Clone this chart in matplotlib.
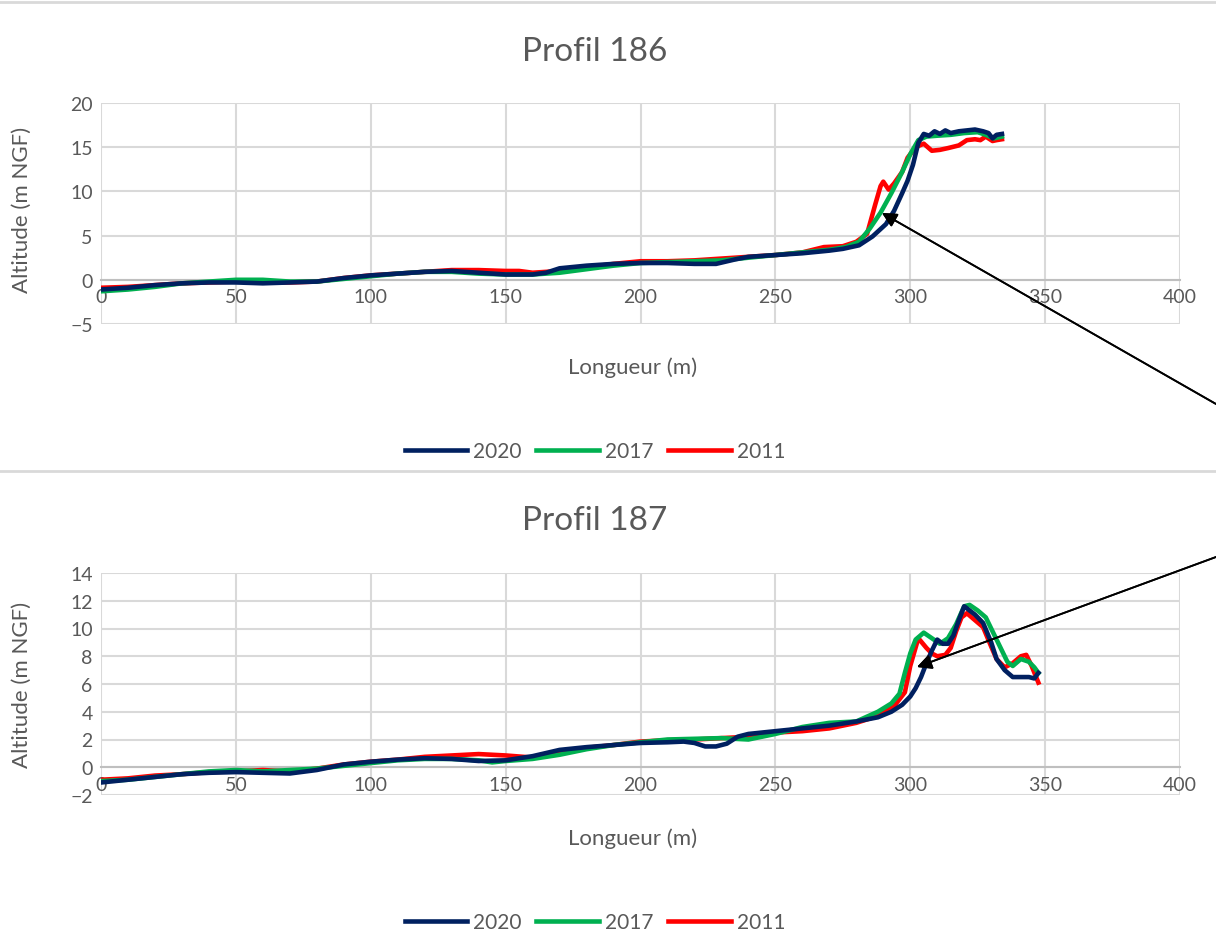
import matplotlib.pyplot as plt
from matplotlib.lines import Line2D

plt.rcParams['font.family'] = ['Lato', 'DejaVu Sans']

years = ['2020', '2017', '2011']
colors = {'2020': '#002060', '2017': '#00B050', '2011': '#FF0000'}

# Profil 186
x186_2020 = [0, 10, 20, 30, 40, 50, 60, 70, 80, 90, 100, 110, 120, 130, 140, 150, 160, 165, 170, 180,
             190, 200, 210, 220, 228, 235, 240, 250, 260, 270, 275, 281, 286, 291, 294, 297, 299, 301,
             303, 305, 307, 309, 311, 313, 315, 318, 321, 324, 327, 329, 330.5, 332, 334]
y186_2020 = [-1.1, -0.9, -0.6, -0.4, -0.3, -0.3, -0.4, -0.3, -0.2, 0.2, 0.5, 0.7, 0.9, 1.0, 0.8, 0.6,
             0.6, 0.8, 1.3, 1.6, 1.8, 1.9, 1.9, 1.8, 1.8, 2.3, 2.6, 2.8, 3.0, 3.3, 3.5, 3.9, 4.9, 6.3,
             7.8, 9.8, 11.2, 13.0, 15.5, 16.5, 16.3, 16.8, 16.5, 16.9, 16.6, 16.8, 16.9, 17.0, 16.8,
             16.6, 16.0, 16.4, 16.5]
x186_2017 = [0, 10, 20, 30, 40, 50, 60, 70, 80, 90, 100, 110, 120, 130, 140, 150, 160, 170, 180, 190,
             200, 210, 220, 230, 240, 250, 260, 270, 276, 281, 285, 289, 293, 297, 300, 303, 306, 310,
             315, 320, 325, 328, 331, 334]
y186_2017 = [-1.3, -1.1, -0.8, -0.4, -0.2, 0.0, 0.0, -0.2, -0.2, 0.1, 0.4, 0.7, 0.9, 0.9, 0.7, 0.6,
             0.6, 0.8, 1.2, 1.6, 1.9, 2.0, 2.1, 2.2, 2.5, 2.8, 3.1, 3.4, 3.7, 4.3, 5.8, 7.6, 9.8, 12.2,
             14.2, 15.8, 16.2, 16.3, 16.4, 16.6, 16.7, 16.4, 16.0, 16.2]
x186_2011 = [0, 10, 20, 30, 40, 50, 60, 70, 80, 90, 100, 110, 120, 130, 140, 150, 155, 160, 170, 180,
             190, 200, 210, 220, 230, 240, 250, 260, 268, 275, 280, 284, 287, 289, 290, 292, 294, 297,
             299, 302, 305, 308, 311, 314, 318, 321, 324, 326, 328, 330.5, 332, 334]
y186_2011 = [-0.9, -0.8, -0.6, -0.4, -0.3, -0.2, -0.3, -0.3, -0.2, 0.2, 0.5, 0.7, 0.9, 1.1, 1.1, 1.0,
             1.0, 0.8, 1.0, 1.4, 1.8, 2.1, 2.1, 2.2, 2.4, 2.6, 2.8, 3.1, 3.7, 3.8, 4.3, 5.2, 8.5, 10.6,
             11.1, 10.2, 10.9, 12.2, 13.8, 15.0, 15.4, 14.6, 14.7, 14.9, 15.2, 15.8, 15.9, 15.8, 16.2,
             15.7, 15.8, 15.9]

# Profil 187
x187_2020 = [0, 10, 20, 30, 40, 50, 60, 70, 80, 90, 100, 110, 120, 130, 140, 150, 160, 170, 180, 190,
             200, 210, 216, 220, 224, 228, 232, 236, 240, 250, 260, 270, 280, 288, 293, 297, 300, 302,
             304, 306, 308, 310, 312, 314, 316, 318, 320, 322, 324, 327, 330, 332, 335, 338, 341, 344,
             346, 347.5]
y187_2020 = [-1.1, -0.9, -0.7, -0.5, -0.4, -0.35, -0.4, -0.45, -0.2, 0.2, 0.4, 0.55, 0.65, 0.6, 0.45,
             0.5, 0.8, 1.25, 1.45, 1.6, 1.75, 1.8, 1.85, 1.75, 1.5, 1.5, 1.7, 2.2, 2.4, 2.6, 2.8, 3.0,
             3.3, 3.6, 4.0, 4.5, 5.1, 5.7, 6.5, 7.5, 8.4, 9.2, 8.9, 8.9, 9.5, 10.6, 11.6, 11.3, 11.0,
             10.4, 9.0, 7.8, 7.0, 6.5, 6.5, 6.5, 6.4, 6.8]
x187_2017 = [0, 10, 20, 30, 40, 50, 60, 70, 80, 90, 100, 110, 120, 130, 140, 145, 150, 160, 170, 180,
             190, 200, 210, 220, 230, 240, 250, 260, 270, 280, 288, 293, 296, 298, 300, 302, 305, 308,
             311, 314, 317, 320, 322, 325, 328, 330, 333, 336, 338, 341, 344, 346, 347.5]
y187_2017 = [-1.0, -0.9, -0.7, -0.5, -0.3, -0.2, -0.3, -0.2, -0.1, 0.1, 0.3, 0.5, 0.6, 0.6, 0.5, 0.35,
             0.45, 0.6, 0.9, 1.3, 1.6, 1.8, 2.0, 2.05, 2.1, 2.0, 2.4, 2.9, 3.2, 3.3, 4.0, 4.6, 5.3, 6.8,
             8.2, 9.2, 9.7, 9.3, 8.9, 9.3, 10.3, 11.6, 11.7, 11.3, 10.8, 10.0, 8.8, 7.6, 7.3, 7.8, 7.6,
             7.2, 6.8]
x187_2011 = [0, 10, 20, 30, 40, 50, 60, 70, 80, 90, 100, 110, 120, 130, 140, 150, 160, 170, 180, 190,
             200, 210, 220, 230, 240, 250, 260, 270, 280, 288, 294, 298, 300, 303, 306, 308, 310, 313,
             315, 317, 319, 321, 324, 327, 330, 332, 335, 338, 341, 343, 345, 347.5]
y187_2011 = [-0.9, -0.8, -0.6, -0.5, -0.35, -0.3, -0.2, -0.3, -0.1, 0.2, 0.4, 0.55, 0.75, 0.85, 0.95,
             0.85, 0.7, 1.1, 1.4, 1.6, 1.85, 1.95, 2.0, 2.1, 2.2, 2.5, 2.6, 2.8, 3.2, 3.7, 4.4, 5.4, 7.3,
             9.3, 8.6, 8.2, 8.0, 8.1, 8.6, 9.8, 10.8, 11.1, 10.6, 10.1, 8.7, 7.8, 7.2, 7.5, 8.0, 8.1,
             7.3, 6.1]

profiles = [
    ('Profil 186', {'2020': (x186_2020, y186_2020), '2017': (x186_2017, y186_2017),
                    '2011': (x186_2011, y186_2011)}, (-5, 20), range(-5, 21, 5)),
    ('Profil 187', {'2020': (x187_2020, y187_2020), '2017': (x187_2017, y187_2017),
                    '2011': (x187_2011, y187_2011)}, (-2, 14), range(-2, 15, 2)),
]

W, H = 1216, 937
fig = plt.figure(figsize=(W / 100, H / 100), dpi=100)

def fx(px):
    return px / W

def fy(py):
    return 1 - py / H

# pixel boxes of the plot areas: (left, top, right, bottom, chart box top, ylabel shift)
boxes = [(101, 104, 1180, 325, 3, -5), (101, 574, 1180, 796, 472, 0)]
grey = '#595959'

for (title, series, ylim, yticks), (l, t, r, b, top, shift) in zip(profiles, boxes):
    ax = fig.add_axes([fx(l), fy(b), fx(r - l), (b - t) / H])
    for yr in ['2011', '2017', '2020']:
        xs, ys = series[yr]
        ax.plot(xs, ys, color=colors[yr], lw=3.3, solid_joinstyle='round', zorder=3)
    ax.set_xlim(0, 400)
    ax.set_ylim(*ylim)
    ax.set_xticks(range(0, 401, 50))
    ax.set_yticks(list(yticks))
    ax.grid(True, color='#D9D9D9', lw=1.5)
    ax.set_axisbelow(True)
    for s in ['top', 'right', 'left']:
        ax.spines[s].set_visible(False)
    ax.spines['bottom'].set_position(('data', 0))
    ax.spines['bottom'].set_color('#BFBFBF')
    ax.spines['bottom'].set_linewidth(1.5)
    ax.tick_params(length=0, labelsize=14, labelcolor=grey, pad=6)

    fig.text(fx(595), fy(top + 49), title, ha='center', va='center', fontsize=24, color=grey)
    fig.text(fx(22), fy((t + b) / 2 + shift), 'Altitude (m NGF)', rotation=90, ha='center',
             va='center', fontsize=16, color=grey)
    fig.text(fx(633), fy(b + 43), 'Longueur (m)', ha='center', va='center',
             fontsize=16, color=grey)
    handles = [Line2D([], [], color=colors[yr], lw=3.3) for yr in years]
    fig.legend(handles, years, loc='center', bbox_to_anchor=(fx(595), fy(b + 127)), ncol=3,
               frameon=False, fontsize=15, labelcolor=grey, handlelength=3.0,
               handletextpad=0.3, columnspacing=0.7)
    fig.add_artist(Line2D([0, 1], [fy(top), fy(top)], color='#D9D9D9', lw=2))

# arrows pointing to the erosion fronts
for tip, start in [((882, 214), (1216, 405)), ((917, 668), (1216, 558))]:
    fig.add_artist(plt.annotate('', xy=(fx(tip[0]), fy(tip[1])),
                                xytext=(fx(start[0]), fy(start[1])),
                                xycoords='figure fraction', textcoords='figure fraction',
                                arrowprops=dict(arrowstyle='-|>', color='black', lw=1.3,
                                                mutation_scale=22, shrinkA=0, shrinkB=0)))

fig.savefig('out.png', dpi=100)
